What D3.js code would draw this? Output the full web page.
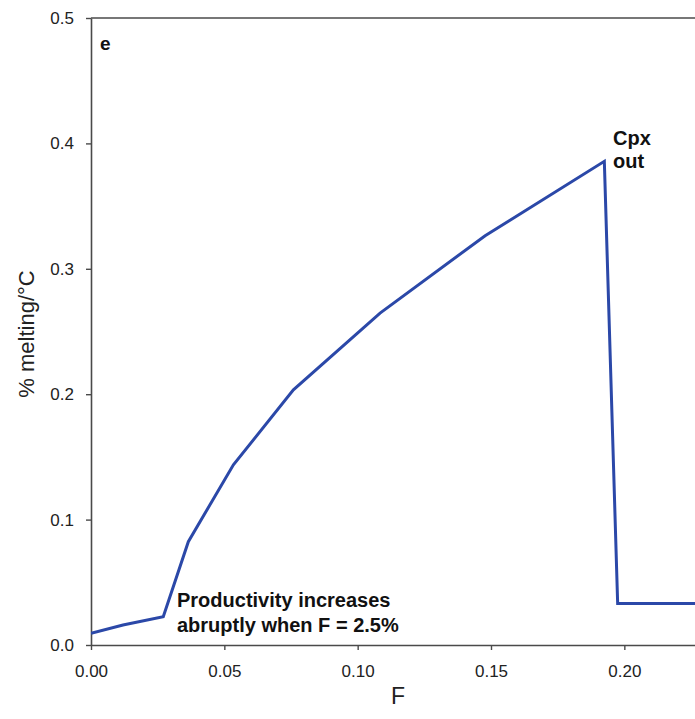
<!DOCTYPE html>
<html>
<head>
<meta charset="utf-8">
<script src="https://cdn.jsdelivr.net/npm/d3@7"></script>
<style>
  html, body { margin: 0; padding: 0; background: #fff; }
  svg { display: block; font-family: "Liberation Sans", Arial, sans-serif; }
</style>
</head>
<body>
<svg id="chart" width="695" height="719"></svg>
<script>
// Melt fraction F and melt productivity (% melting per °C)
const meltF        = [0.000, 0.012, 0.0271, 0.0365, 0.0534, 0.0759, 0.1084, 0.1478, 0.1925, 0.1975, 0.2400];
const productivity = [0.0093, 0.0160, 0.0226, 0.0824, 0.1437, 0.2035, 0.2647, 0.3264, 0.3857, 0.0330, 0.0330];

const xTicks = [0.00, 0.05, 0.10, 0.15, 0.20];
const yTicks = [0.0, 0.1, 0.2, 0.3, 0.4, 0.5];

const svg = d3.select("#chart");
const plotLeft = 91, plotRight = 695, plotTop = 18, plotBottom = 645;

const x = d3.scaleLinear().domain([0, 0.2265]).range([plotLeft, plotRight]);
const y = d3.scaleLinear().domain([0, 0.5]).range([plotBottom, plotTop]);

const axisColor = "#4a4a4a";

// clip the curve to the plotting region
svg.append("defs").append("clipPath").attr("id", "plotClip")
  .append("rect").attr("x", plotLeft).attr("y", plotTop - 2)
  .attr("width", plotRight - plotLeft).attr("height", plotBottom - plotTop + 4);

// y axis
const gy = svg.append("g").attr("transform", `translate(${plotLeft},0)`)
  .call(d3.axisLeft(y).tickValues(yTicks).tickFormat(d3.format(".1f")).tickSize(5).tickSizeOuter(0));
// x axis
const gx = svg.append("g").attr("transform", `translate(0,${plotBottom})`)
  .call(d3.axisBottom(x).tickValues(xTicks).tickFormat(d3.format(".2f")).tickSize(5).tickSizeOuter(0));

[gy, gx].forEach(g => {
  g.select(".domain").attr("stroke", axisColor).attr("stroke-width", 1.6);
  g.selectAll(".tick line").attr("stroke", axisColor).attr("stroke-width", 1.4);
  g.selectAll(".tick text").attr("fill", "#222").style("font-size", "17px")
    .style("font-family", "'Liberation Sans', Arial, sans-serif");
});
gy.selectAll(".tick text").attr("x", -17);
gx.selectAll(".tick text").attr("y", 20);

// top frame line
svg.append("line")
  .attr("x1", plotLeft).attr("x2", plotRight)
  .attr("y1", y(0.5)).attr("y2", y(0.5))
  .attr("stroke", axisColor).attr("stroke-width", 1.6);

// productivity curve
const pts = meltF.map((f, i) => [f, productivity[i]]);
svg.append("path")
  .datum(pts)
  .attr("clip-path", "url(#plotClip)")
  .attr("fill", "none")
  .attr("stroke", "#2b48a8")
  .attr("stroke-width", 3)
  .attr("stroke-linejoin", "miter")
  .attr("d", d3.line().x(d => x(d[0])).y(d => y(d[1])));

// axis titles
svg.append("text")
  .attr("x", 398).attr("y", 704)
  .attr("text-anchor", "middle")
  .attr("fill", "#222")
  .style("font-size", "23px")
  .text("F");

svg.append("text")
  .attr("transform", "translate(34,334) rotate(-90)")
  .attr("text-anchor", "middle")
  .attr("fill", "#222")
  .style("font-size", "22px")
  .text("% melting/°C");

// annotations
svg.append("text").attr("x", 100).attr("y", 50)
  .attr("font-weight", "bold").attr("fill", "#111").style("font-size", "19px").text("e");

const cpx = svg.append("text").attr("font-weight", "bold").attr("fill", "#111").style("font-size", "20px");
cpx.append("tspan").attr("x", 613).attr("y", 145).text("Cpx");
cpx.append("tspan").attr("x", 613).attr("y", 168).text("out");

const note = svg.append("text").attr("font-weight", "bold").attr("fill", "#111").style("font-size", "20px");
note.append("tspan").attr("x", 177).attr("y", 607).text("Productivity increases");
note.append("tspan").attr("x", 177).attr("y", 632).text("abruptly when F = 2.5%");
</script>
</body>
</html>
